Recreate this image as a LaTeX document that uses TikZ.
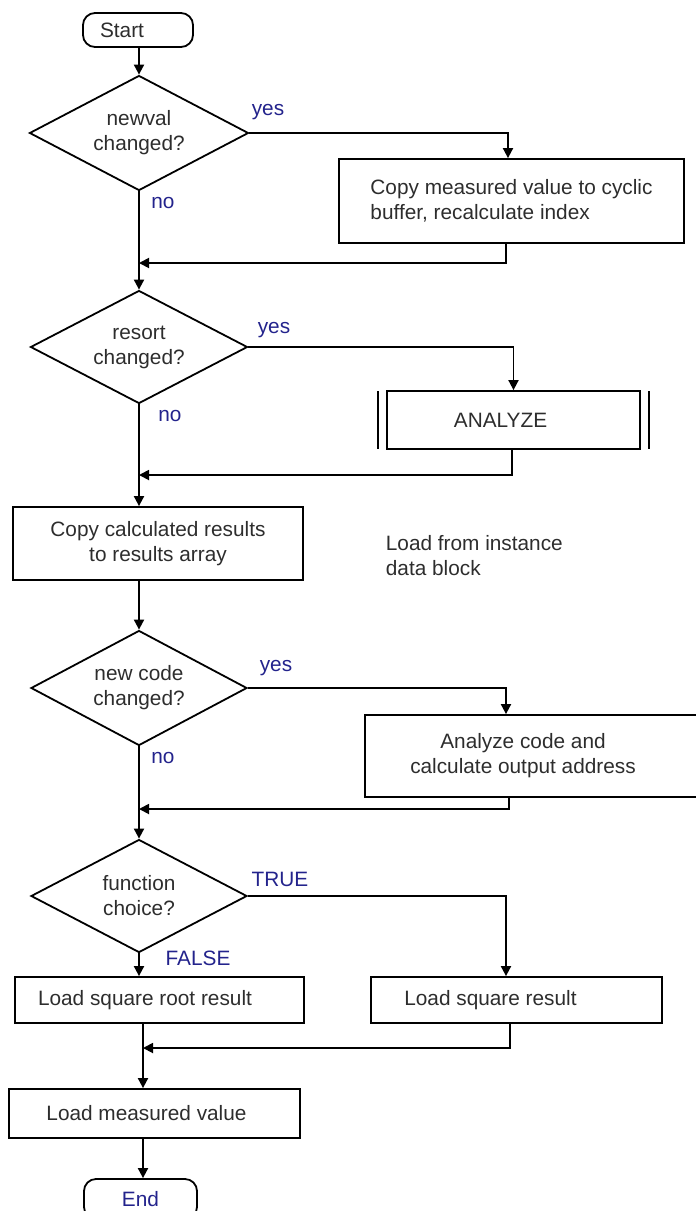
\documentclass[tikz,border=0pt]{standalone}
\usepackage{fontspec}
\setmainfont{Liberation Sans}
\usetikzlibrary{shapes.geometric,arrows.meta}
\definecolor{ink}{RGB}{45,45,45}
\definecolor{lab}{RGB}{35,35,140}
\begin{document}
\begin{tikzpicture}[x=1pt,y=-1pt,
  line width=1.8pt,
  every node/.style={font=\fontsize{20.8pt}{25pt}\selectfont, text=ink},
  arr/.style={draw=black, -{Triangle[length=10pt,width=10pt]}},
  ln/.style={draw=black},
  term/.style={draw=black, rectangle, rounded corners=12pt, inner sep=0pt},
  dec/.style={draw=black, diamond, aspect=1.9, inner sep=0pt, align=center},
  proc/.style={draw=black, rectangle, inner sep=0pt},
  lbl/.style={text=lab, inner sep=0pt}]
\useasboundingbox (0,0) rectangle (696,1211);

% nodes
\node[term, minimum width=110pt, minimum height=34pt] (start) at (138,30) {Start\hspace*{32pt}};
\node[dec, minimum width=219pt, minimum height=115pt] (d1) at (139,133) {newval\\changed?};
\node[proc, minimum width=345pt, minimum height=84pt, align=left] (box1) at (511.5,201) {Copy measured value to cyclic\\buffer, recalculate index};
\coordinate (j1) at (139,263);

\node[dec, minimum width=217pt, minimum height=113pt] (d2) at (139,347) {resort\\changed?};
\node[proc, minimum width=253pt, minimum height=58pt] (an) at (513.5,420) {ANALYZE\hspace*{26pt}};
\coordinate (j2) at (139,475);

\node[proc, minimum width=290pt, minimum height=73pt, align=center] (copy) at (158,543.5) {Copy calculated results\\to results array};
\node[anchor=west, align=left, inner sep=0pt] (note) at (385,556) {Load from instance\\data block};

\node[dec, minimum width=216pt, minimum height=115pt] (d3) at (139,688) {new code\\changed?};
\node[proc, minimum width=345pt, minimum height=82pt] (box3) at (537.5,756) {\begin{tabular}{@{}c@{}}Analyze code and\\calculate output address\end{tabular}\hspace*{29pt}};
\coordinate (j3) at (139,809);

\node[dec, minimum width=216pt, minimum height=113pt] (d4) at (139,896) {function\\choice?};
\node[proc, minimum width=289pt, minimum height=46pt] (sqrt) at (159.5,1000) {Load square root result\hspace*{29pt}};
\node[proc, minimum width=291pt, minimum height=46pt] (sq) at (516.5,1000) {Load square result\hspace*{52pt}};
\coordinate (j4) at (143,1048);
\node[proc, minimum width=291pt, minimum height=49pt] (meas) at (154.5,1113.5) {Load measured value\hspace*{16pt}};
\node[term, minimum width=113pt, minimum height=40pt, text=lab] (end) at (140.5,1199) {End};

% labels
\node[lbl] (y1) at (268,112) {yes};
\node[lbl] (n1) at (163,203) {no};
\node[lbl] (y2) at (274,330) {yes};
\node[lbl] (n2) at (170,416) {no};
\node[lbl] (y3) at (276,668) {yes};
\node[lbl] (n3) at (163,758) {no};
\node[lbl] (t4) at (280,879) {TRUE};
\node[lbl] (f4) at (198,958) {FALSE};

% subroutine bars
\draw[ln] ([xshift=-8pt,yshift=-1pt]an.north west) -- ([xshift=-8pt,yshift=1pt]an.south west);
\draw[ln] ([xshift=8pt,yshift=-1pt]an.north east) -- ([xshift=8pt,yshift=1pt]an.south east);

% connectors
\draw[arr] (start.south -| d1.north) -- (d1.north);
\draw[arr] (d1.east) -| ([xshift=-3.5pt]box1.north);
\draw[arr] ([xshift=-5.5pt]box1.south) |- (j1);
\draw[arr] (d1.south) -- (d2.north);

\draw[arr] (d2.east) -| (an.north);
\draw[arr] ([xshift=-1.5pt]an.south) |- (j2);
\draw[arr] (d2.south) -- (d2.south |- copy.north);

\draw[arr] (d3.north |- copy.south) -- (d3.north);
\draw[arr] (d3.east) -| ([xshift=-31.5pt]box3.north);
\draw[arr] ([xshift=-28.5pt]box3.south) |- (j3);
\draw[arr] (d3.south) -- (d4.north);

\draw[arr] (d4.east) -| ([xshift=-10.5pt]sq.north);
\draw[arr] (d4.south) -- (d4.south |- sqrt.north);
\draw[arr] ([xshift=-6.5pt]sq.south) |- (j4);
\draw[arr] (j4 |- sqrt.south) -- (j4 |- meas.north);
\draw[arr] (j4 |- meas.south) -- (j4 |- end.north);
\end{tikzpicture}
\end{document}
